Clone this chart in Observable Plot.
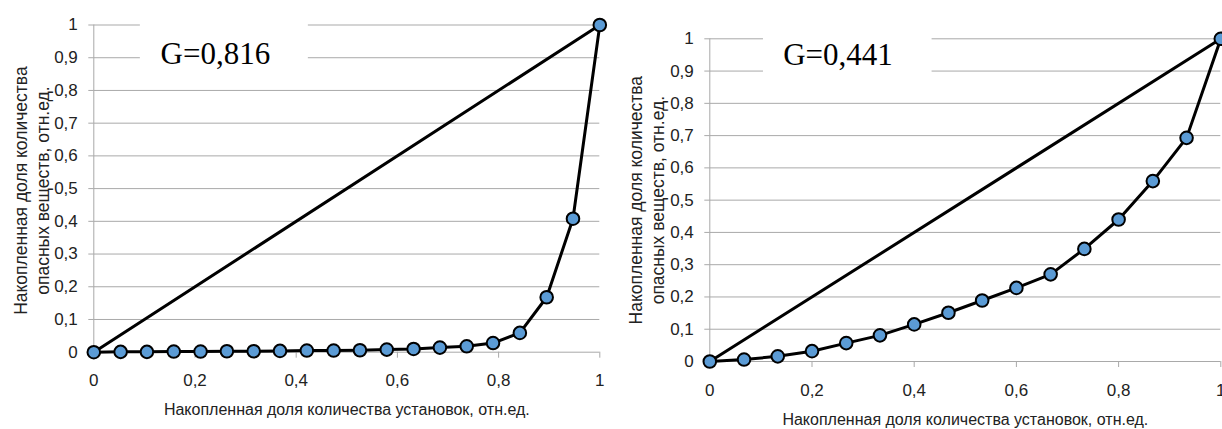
<!DOCTYPE html>
<html>
<head>
<meta charset="utf-8">
<script src="https://cdn.jsdelivr.net/npm/d3@7"></script>
<script src="https://cdn.jsdelivr.net/npm/@observablehq/plot@0.6"></script>
<style>
  html, body { margin: 0; padding: 0; background: #fff; }
  #wrap { position: relative; width: 1222px; height: 429px; overflow: hidden; }
  #left, #right { position: absolute; top: 0; }
  #left { left: 0; }
  #right { left: 611px; }
</style>
</head>
<body>
<div id="wrap"><div id="left"></div><div id="right"></div></div>
<script>
// ---- data ----
const leftX = [0, 0.053, 0.105, 0.158, 0.211, 0.263, 0.316, 0.368, 0.421, 0.474, 0.526, 0.579, 0.632, 0.684, 0.737, 0.789, 0.842, 0.895, 0.947, 1];
const leftY = [0, 0.001, 0.001, 0.002, 0.002, 0.003, 0.003, 0.004, 0.005, 0.005, 0.006, 0.008, 0.010, 0.014, 0.018, 0.028, 0.059, 0.168, 0.408, 1];
const rightX = [0, 0.067, 0.133, 0.2, 0.267, 0.333, 0.4, 0.467, 0.533, 0.6, 0.667, 0.733, 0.8, 0.867, 0.933, 1];
const rightY = [0, 0.006, 0.016, 0.032, 0.057, 0.081, 0.115, 0.151, 0.189, 0.228, 0.27, 0.349, 0.44, 0.559, 0.693, 1];
const equality = [0, 1];
const yTicks = [0, 0.1, 0.2, 0.3, 0.4, 0.5, 0.6, 0.7, 0.8, 0.9, 1];
const yTickLabels = ["0", "0,1", "0,2", "0,3", "0,4", "0,5", "0,6", "0,7", "0,8", "0,9", "1"];
const xTicks = [0, 0.2, 0.4, 0.6, 0.8, 1];
const xTickLabels = ["0", "0,2", "0,4", "0,6", "0,8", "1"];
const giniLeft = "G=0,816";
const giniRight = "G=0,441";
const xTitle = "Накопленная доля количества установок, отн.ед.";
const yTitle = "Накопленная доля количества\nопасных веществ, отн.ед.";

const GRID = "#a9a9a9";
const TICKFONT = "'Liberation Sans Narrow', 'Liberation Sans', sans-serif";

function chart(xs, ys, g, cfg) {
  const pts = xs.map((x, i) => ({x, y: ys[i]}));
  const diag = equality.map(v => ({x: v, y: v}));
  return Plot.plot({
    width: 611,
    height: 429,
    marginLeft: cfg.ml,
    marginRight: cfg.mr,
    marginTop: cfg.mt,
    marginBottom: cfg.mb,
    style: {background: "white", color: "#222", overflow: "visible"},
    x: {domain: [0, 1]},
    y: {domain: [0, 1]},
    marks: [
      Plot.gridY(yTicks, {stroke: GRID, strokeOpacity: 1, strokeWidth: 1}),
      Plot.ruleX([0], {stroke: GRID, strokeWidth: 1}),
      Plot.axisY(yTicks, {
        tickSize: 5, tickPadding: 11, stroke: GRID, strokeOpacity: 1,
        tickFormat: d => yTickLabels[yTicks.indexOf(d)],
        fontSize: 17, fontFamily: TICKFONT, fill: "#222", label: null
      }),
      Plot.axisX(xTicks, {
        tickSize: 6, tickPadding: 16, stroke: GRID, strokeOpacity: 1,
        tickFormat: d => xTickLabels[xTicks.indexOf(d)],
        fontSize: 17, fontFamily: TICKFONT, fill: "#222", label: null
      }),
      Plot.rect([g], {x1: cfg.bx1, x2: cfg.bx2, y1: cfg.by1, y2: cfg.by2, fill: "white"}),
      Plot.text([g], {x: cfg.gx, y: cfg.gy, text: d => d, textAnchor: "start", lineAnchor: "bottom",
        fontFamily: "'Liberation Serif', 'Times New Roman', serif", fontSize: 31, fill: "#000"}),
      Plot.line(diag, {x: "x", y: "y", stroke: "#000", strokeWidth: 3}),
      Plot.line(pts, {x: "x", y: "y", stroke: "#000", strokeWidth: 3}),
      Plot.dot(pts, {x: "x", y: "y", r: 6.3, fill: "#5b9bd5", stroke: "#000", strokeWidth: 2}),
      Plot.text([xTitle], {frameAnchor: "bottom", dy: cfg.xtdy, lineAnchor: "middle", textAnchor: "middle",
        fontSize: 16, fontFamily: TICKFONT, fill: "#222"}),
      Plot.text([yTitle], {frameAnchor: "left", rotate: -90, dx: cfg.ytdx, dy: cfg.ytdy, lineAnchor: "middle",
        textAnchor: "middle", lineHeight: 1.3, fontSize: 17.5,
        fontFamily: "'Liberation Sans', Arial, sans-serif", fill: "#222"})
    ]
  });
}

document.getElementById("left").append(chart(leftX, leftY, giniLeft, {
  ml: 93.3, mr: 11.7, mt: 24.5, mb: 77.3,
  bx1: 0.092, bx2: 0.424, by1: 0.83, by2: 1.045,
  gx: 0.132, gy: 0.882, xtdy: 58, ytdx: -63, ytdy: 2
}));
document.getElementById("right").append(chart(rightX, rightY, giniRight, {
  ml: 98.3, mr: 1.7, mt: 38.3, mb: 68,
  bx1: 0.105, bx2: 0.435, by1: 0.84, by2: 1.06,
  gx: 0.1436, gy: 0.92, xtdy: 58, ytdx: -64, ytdy: 0
}));
</script>
</body>
</html>
